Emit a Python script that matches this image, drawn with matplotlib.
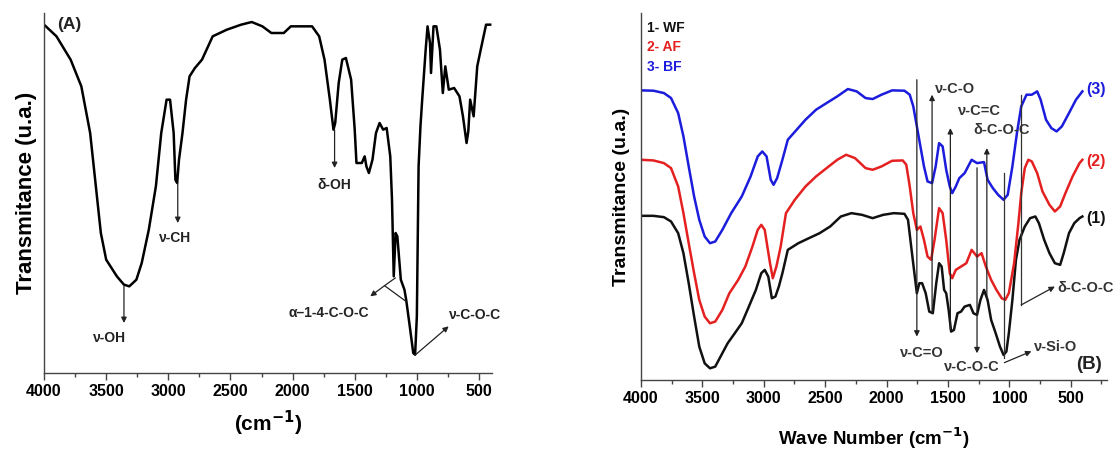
import numpy as np
import matplotlib
matplotlib.use("Agg")
import matplotlib.pyplot as plt
from matplotlib.ticker import MultipleLocator

plt.rcParams['font.family'] = ['Liberation Sans', 'DejaVu Sans']

# ---- panel A : single spectrum ----
wn_a = [4000, 3900, 3786, 3700, 3629, 3586, 3543, 3500, 3414, 3357, 3314, 3257, 3214, 3157, 3100,
        3057, 3014, 2986, 2957, 2943, 2929, 2914, 2886, 2857, 2829, 2786, 2729, 2643, 2529, 2414,
        2329, 2243, 2171, 2071, 2014, 1843, 1786, 1743, 1700, 1671, 1657, 1629, 1600, 1571, 1529,
        1500, 1486, 1443, 1420, 1406, 1386, 1357, 1329, 1300, 1271, 1243, 1214, 1200, 1186, 1171,
        1157, 1129, 1100, 1086, 1057, 1029, 1014, 1000, 986, 971, 957, 929, 914, 894, 886,
        866, 843, 814, 791, 771, 743, 700, 657, 629, 600, 586, 571, 543, 514, 486, 443, 410]
t_a = [104.5, 101, 94, 86, 72, 57, 42, 34, 29, 26.5, 26, 28, 33, 43, 56,
       72, 82, 82, 72, 58, 57, 64, 72, 82, 89, 91.5, 94, 101, 103, 104.5,
       105.3, 104, 102, 102, 104, 104, 101, 94, 82, 73, 75, 87, 94, 94.5, 88,
       73, 63, 63, 65, 62, 60, 64, 72, 75, 73, 73.5, 65, 52, 29, 42,
       41, 28, 25, 22, 14, 6, 5.5, 17, 62, 74, 82, 97, 104, 99, 90,
       104, 104, 97, 84, 92, 85, 85.5, 83, 77, 69, 72.5, 82, 77, 92, 97, 104.5, 104.5]

# ---- panel B : three spectra ----
wn_wf = [4000, 3899, 3813, 3755, 3697, 3654, 3611, 3567, 3525, 3481, 3438, 3395, 3352, 3294, 3236,
         3179, 3121, 3064, 3020, 2992, 2963, 2934, 2905, 2877, 2848, 2804, 2718, 2632, 2545, 2459,
         2372, 2286, 2200, 2113, 2027, 1940, 1854, 1825, 1796, 1773, 1753, 1733, 1710, 1681, 1652,
         1623, 1595, 1572, 1551, 1531, 1514, 1494, 1474, 1451, 1422, 1393, 1364, 1321, 1292, 1263,
         1235, 1206, 1177, 1148, 1111, 1076, 1047, 1024, 1004, 975, 946, 917, 874, 831, 788,
         759, 716, 673, 629, 586, 557, 514, 471, 428, 405]
t_wf = [49.2, 49.2, 48.8, 47.5, 44, 38, 29, 19, 10, 5, 3.5, 4, 7, 11, 14,
        17, 22, 27, 32, 33, 31, 24.5, 25, 28, 32, 39, 41, 42.5, 44, 46,
        49, 50, 49.5, 48.5, 49.5, 50, 49.8, 48, 39, 32, 26, 29, 29, 26, 20.5,
        20, 29, 35, 34, 27, 26, 21, 14.5, 15, 20, 20.5, 22, 22.5, 20, 19.5,
        24, 27, 24, 18, 14, 10, 7.5, 8.5, 14, 24, 36, 42, 46, 48.5, 49,
        47, 42, 38, 35, 34.5, 38, 44, 47, 48.5, 49]

wn_af = [4000, 3899, 3813, 3755, 3697, 3654, 3611, 3567, 3525, 3481, 3438, 3395, 3337, 3280, 3208,
         3150, 3092, 3049, 3020, 2992, 2949, 2926, 2897, 2862, 2819, 2747, 2660, 2574, 2488, 2401,
         2329, 2257, 2171, 2113, 2041, 1954, 1868, 1839, 1811, 1782, 1753, 1724, 1695, 1666, 1637,
         1609, 1572, 1543, 1514, 1485, 1465, 1436, 1393, 1350, 1307, 1263, 1226, 1191, 1148, 1105,
         1062, 1033, 1004, 961, 926, 903, 874, 845, 817, 773, 730, 673, 629, 586, 543,
         485, 428, 405]
t_af = [66, 65.8, 65, 63.5, 58, 50, 41, 32, 24, 19, 17, 17.5, 21, 26, 30,
        34, 40, 45, 46.5, 45, 35, 30.5, 34, 40, 50, 54, 58, 61, 63.5, 66,
        67.5, 66.5, 63.5, 63, 64, 65.7, 65.8, 64.5, 58, 50, 45, 46, 42, 37, 36,
        42, 51.5, 50, 42, 32, 30.5, 33, 34, 35, 39, 37, 38, 34, 30, 27,
        24.5, 24, 26, 35, 47, 56, 63.5, 66, 65.5, 62, 56.5, 52.5, 50.5, 52, 56,
        61, 65, 66]

wn_bf = [4000, 3899, 3813, 3755, 3697, 3654, 3611, 3567, 3525, 3481, 3438, 3395, 3337, 3265, 3179,
         3107, 3049, 3012, 2977, 2943, 2920, 2891, 2848, 2804, 2732, 2660, 2574, 2488, 2401, 2315,
         2243, 2171, 2113, 2041, 1954, 1854, 1811, 1782, 1753, 1724, 1695, 1666, 1629, 1600, 1572,
         1543, 1514, 1485, 1465, 1436, 1407, 1364, 1307, 1263, 1206, 1177, 1134, 1091, 1047, 1013,
         975, 938, 903, 860, 817, 773, 745, 701, 658, 615, 572, 514, 457, 405]
t_bf = [86.8, 86.7, 86, 84.5, 80, 73, 64, 55, 48, 43, 41, 41.5, 45, 50, 55,
        61, 67, 68.5, 67, 60, 58.5, 60.5, 66, 72, 75, 78, 81, 83, 85, 87.2,
        86.5, 84.5, 84.2, 85.5, 86.8, 86.7, 85.5, 82, 76, 70, 64, 59.5, 59, 64, 71,
        70, 63, 58, 56, 58, 60.5, 62, 66, 65, 65.3, 60, 57.5, 55.5, 54, 55.5,
        64, 74, 82, 85.5, 85.5, 86.5, 84, 78, 75.5, 74.5, 76, 80, 84, 86.5]

series_b = [("1- WF", wn_wf, t_wf, "#111111"),
            ("2- AF", wn_af, t_af, "#e42020"),
            ("3- BF", wn_bf, t_bf, "#1c1cdc")]

ticks = [4000, 3500, 3000, 2500, 2000, 1500, 1000, 500]


def style_axis(ax, xlim, ylim):
    ax.set_xlim(*xlim)
    ax.set_ylim(*ylim)
    for s in ['top', 'right']:
        ax.spines[s].set_visible(False)
    for s in ['left', 'bottom']:
        ax.spines[s].set_color('#444444')
        ax.spines[s].set_linewidth(1.0)
    ax.set_yticks([])
    ax.set_xticks(ticks)
    ax.xaxis.set_minor_locator(MultipleLocator(250))
    ax.tick_params(axis='x', which='major', direction='out', length=5, width=1,
                   color='#444444', labelsize=11.5, pad=3)
    ax.tick_params(axis='x', which='minor', direction='out', length=3, width=1, color='#444444')
    for lab in ax.get_xticklabels():
        lab.set_fontweight('bold')


fig = plt.figure(figsize=(11.18, 4.5), dpi=100)
ax1 = fig.add_axes([0.0394, 0.1711, 0.4007, 0.80])
ax2 = fig.add_axes([0.5733, 0.1556, 0.4168, 0.8156])

# panel A
ax1.plot(wn_a, t_a, color='black', lw=1.8, solid_joinstyle='round')
style_axis(ax1, (4000, 395), (0, 108))
ax1.set_ylabel('Transmitance (u.a.)', fontsize=16, fontweight='bold', labelpad=5)
ax1.set_xlabel('(cm$^{\\mathbf{-1}}$)', fontsize=15, fontweight='bold', labelpad=7)
ax1.text(0.03, 0.967, '(A)', transform=ax1.transAxes, fontsize=12.5, fontweight='bold',
         va='center', ha='left', color='#222222')

arw = dict(arrowstyle='-|>', color='#222222', lw=0.9, mutation_scale=8, shrinkA=0, shrinkB=0)
lbl = dict(fontsize=10, fontweight='bold', color='#222222', ha='center', va='center')

ax1.annotate('', xy=(3357, 15), xytext=(3357, 26), arrowprops=arw)
ax1.text(3470, 10.5, 'ν-OH', **lbl)
ax1.annotate('', xy=(2924, 45), xytext=(2924, 57), arrowprops=arw)
ax1.text(2947, 40.5, 'ν-CH', **lbl)
ax1.annotate('', xy=(1662, 61.5), xytext=(1662, 73), arrowprops=arw)
ax1.text(1662, 56.5, 'δ-OH', **lbl)
ax1.plot([1174, 1260, 1088], [28.5, 26.2, 21.5], color='#222222', lw=0.9)
ax1.annotate('', xy=(1375, 23), xytext=(1260, 26.2), arrowprops=arw)
ax1.text(1705, 18, 'α–1-4-C-O-C', **lbl)
ax1.annotate('', xy=(744, 14), xytext=(1010, 5.5), arrowprops=arw)
ax1.text(529, 17.5, 'ν-C-O-C', **lbl)

# panel B
for name, wn, t, c in series_b:
    ax2.plot(wn, t, color=c, lw=1.8, solid_joinstyle='round')
style_axis(ax2, (4000, 205), (0, 110))
ax2.set_ylabel('Transmitance (u.a.)', fontsize=14, fontweight='bold', labelpad=8)
ax2.set_xlabel('Wave Number (cm$^{\\mathbf{-1}}$)', fontsize=13.5, fontweight='bold', labelpad=14)

for i, (name, wn, t, c) in enumerate(series_b):
    ax2.text(0.012, 0.959 - 0.053 * i, name, transform=ax2.transAxes, color=c,
             fontsize=10, fontweight='bold', va='center', ha='left')

vl = dict(color='#333333', lw=0.9)
lb2 = dict(fontsize=10.5, fontweight='bold', color='#333333', ha='center', va='center')
# nu C=O
ax2.annotate('', xy=(1753, 13), xytext=(1753, 90), arrowprops=arw)
ax2.text(1710, 8, 'ν-C=O', **lb2)
# nu C-O
ax2.annotate('', xy=(1629, 85.5), xytext=(1629, 20), arrowprops=arw)
ax2.text(1445, 87.2, 'ν-C-O', **lb2)
# nu C=C
ax2.annotate('', xy=(1480, 75.5), xytext=(1480, 15), arrowprops=arw)
ax2.text(1243, 80.5, 'ν-C=C', **lb2)
# delta C-O-C (upper)
ax2.annotate('', xy=(1183, 69.5), xytext=(1183, 24), arrowprops=arw)
ax2.text(1062, 75, 'δ-C-O-C', **lb2)
# nu C-O-C
ax2.annotate('', xy=(1263, 8), xytext=(1263, 63.6), arrowprops=arw)
ax2.text(1307, 3.9, 'ν-C-O-C', **lb2)
# nu Si-O
ax2.plot([1040, 1040], [62, 6.5], **vl)
ax2.annotate('', xy=(820, 8.6), xytext=(1040, 5.2), arrowprops=arw)
ax2.text(800, 9.8, 'ν-Si-O', fontsize=10.5, fontweight='bold', color='#333333', ha='left', va='center')
# delta C-O-C (lower)
ax2.plot([903, 903], [85.5, 22.5], **vl)
ax2.annotate('', xy=(629, 28), xytext=(903, 22.5), arrowprops=arw)
ax2.text(605, 27.5, 'δ-C-O-C', fontsize=10.5, fontweight='bold', color='#333333', ha='left', va='center')

for (name, wn, t, c), y in zip(series_b, [48.5, 65.5, 87]):
    ax2.text(370, y, '(%s)' % name[0], color=c, fontsize=11.5, fontweight='bold', ha='left', va='center')
ax2.text(347, 4.5, '(B)', fontsize=13.5, fontweight='bold', color='#222222', ha='center', va='center')

fig.savefig('out.png', dpi=100)
